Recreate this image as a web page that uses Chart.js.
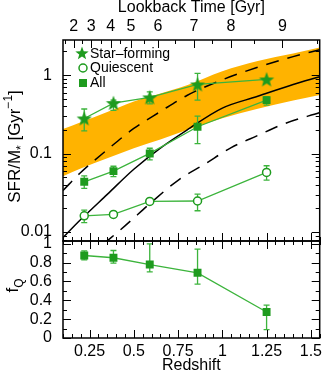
<!DOCTYPE html>
<html>
<head>
<meta charset="utf-8">
<script src="https://cdn.jsdelivr.net/npm/chart.js@4.4.1/dist/chart.umd.min.js"></script>
<style>
  html, body { margin: 0; padding: 0; background: #fff; }
  #wrap { width: 329px; height: 374px; }
</style>
</head>
<body>
<div id="wrap"><canvas id="chart"></canvas></div>
<script>
// measured points
const redshift = [0.22, 0.385, 0.59, 0.86, 1.25];
const sfVal = [0.28, 0.44, 0.52, 0.76, 0.88];
const sfLo  = [0.195, 0.355, 0.43, 0.48, null];
const sfHi  = [0.37, 0.48, 0.61, 1.05, null];
const qVal  = [0.0161, 0.0168, 0.0246, 0.0249, 0.0576];
const qLo   = [0.0132, null, null, 0.0187, 0.046];
const qHi   = [0.0191, null, null, 0.0305, 0.070];
const allVal = [0.0437, 0.0598, 0.1005, 0.22, 0.48];
const allLo  = [0.036, 0.051, 0.083, 0.134, 0.415];
const allHi  = [0.052, 0.069, 0.117, 0.30, 0.53];
const fqVal = [0.876, 0.852, 0.780, 0.692, 0.276];
const fqLo  = [0.830, 0.795, 0.703, 0.573, 0.088];
const fqHi  = [0.926, 0.929, 1.0, 0.944, 0.350];

// model curves
const modelZ  = [0.1, 0.2, 0.35, 0.5, 0.65, 0.8, 1.0, 1.2, 1.4, 1.55];
const bandHi  = [0.205, 0.251, 0.339, 0.462, 0.582, 0.741, 1.122, 1.514, 1.884, 2.239];
const bandLo  = [0.0516, 0.0646, 0.087, 0.117, 0.151, 0.20, 0.282, 0.372, 0.473, 0.556];
const dashHi  = [0.0339, 0.0575, 0.112, 0.209, 0.343, 0.55, 0.871, 1.26, 1.72, 2.10];
const solid   = [0.00851, 0.01445, 0.0302, 0.0631, 0.1175, 0.1995, 0.380, 0.537, 0.759, 0.955];
const dashLoZ = [0.33, 0.45, 0.6, 0.75, 0.9, 1.05, 1.2, 1.35, 1.55];
const dashLo  = [0.00708, 0.0120, 0.0240, 0.0457, 0.0733, 0.119, 0.170, 0.240, 0.333];

// ticks
const zTicks = [0.25, 0.5, 0.75, 1, 1.25, 1.5];
const zTickLabels = ['0.25', '0.5', '0.75', '1', '1.25', '1.5'];
const lbMajorZ = [0.160, 0.259, 0.369, 0.484, 0.637, 0.840, 1.048, 1.339];
const lbLabels = ['2', '3', '4', '5', '6', '7', '8', '9'];
const lbMinorZ = [0.11, 0.208, 0.312, 0.422, 0.559, 0.73, 0.943, 1.18, 1.536];
const sTicks = [0.01, 0.1, 1];
const sTickLabels = ['0.01', '0.1', '1'];
const fTicks = [0, 0.2, 0.4, 0.6, 0.8, 1];
const fTickLabels = ['0', '0.2', '0.4', '0.6', '0.8', '1'];

const G = '#1e9b1e', GL = '#3cb43c', ORANGE = '#ffb300';
const FONT = 'Liberation Sans';

function pts(xs, ys) { return xs.map((x, i) => ({ x: x, y: ys[i] })); }

function makeStar(r, color) {
  const c = document.createElement('canvas');
  const s = Math.ceil(r * 2 + 2);
  c.width = s; c.height = s;
  const g = c.getContext('2d');
  g.fillStyle = color;
  g.beginPath();
  for (let i = 0; i < 10; i++) {
    const rad = i % 2 ? r * 0.42 : r;
    const a = -Math.PI / 2 + i * Math.PI / 5;
    g.lineTo(s / 2 + rad * Math.cos(a), s / 2 + 0.6 + rad * Math.sin(a));
  }
  g.closePath();
  g.fill();
  return c;
}
const starImg = makeStar(8, G);
const starLegend = makeStar(7, G);

function errBars(chart, yId, xs, lo, hi) {
  const ctx = chart.ctx, sx = chart.scales.x, sy = chart.scales[yId];
  ctx.save();
  ctx.strokeStyle = GL;
  ctx.lineWidth = 1.3;
  xs.forEach((z, i) => {
    if (lo[i] == null) return;
    const px = sx.getPixelForValue(z);
    const p1 = sy.getPixelForValue(lo[i]), p2 = sy.getPixelForValue(hi[i]);
    ctx.beginPath();
    ctx.moveTo(px, p1); ctx.lineTo(px, p2);
    ctx.moveTo(px - 3, p1); ctx.lineTo(px + 3, p1);
    ctx.moveTo(px - 3, p2); ctx.lineTo(px + 3, p2);
    ctx.stroke();
  });
  ctx.restore();
}

function richV(ctx, cx, cy, parts, size) {
  ctx.save();
  ctx.translate(cx, cy);
  ctx.rotate(-Math.PI / 2);
  let w = 0;
  parts.forEach(p => {
    ctx.font = (p.s ? size * 0.7 : size) + 'px "' + FONT + '"';
    p.w = ctx.measureText(p.t).width;
    w += p.w;
  });
  let x = -w / 2;
  ctx.fillStyle = '#000';
  ctx.textBaseline = 'alphabetic';
  parts.forEach(p => {
    ctx.font = (p.s ? size * 0.7 : size) + 'px "' + FONT + '"';
    const dy = p.s === 'sub' ? size * 0.3 : (p.s === 'sup' ? -size * 0.45 : 0);
    ctx.fillText(p.t, x, dy);
    x += p.w;
  });
  ctx.restore();
}

const panels = {
  id: 'panels',
  beforeDatasetDraw(chart, args) {
    const ds = chart.data.datasets[args.index];
    if (ds.errFirst) {
      errBars(chart, 'yTop', redshift, sfLo, sfHi);
      errBars(chart, 'yTop', redshift, qLo, qHi);
      errBars(chart, 'yTop', redshift, allLo, allHi);
      errBars(chart, 'yBot', redshift, fqLo, fqHi);
    }
    const a = chart.chartArea, ys = args.meta.yScale, ctx = chart.ctx;
    ctx.save();
    ctx.beginPath();
    ctx.rect(a.left, ys.top, a.right - a.left, ys.bottom - ys.top);
    ctx.clip();
  },
  afterDatasetDraw(chart) {
    chart.ctx.restore();
  },
  afterDraw(chart) {
    const ctx = chart.ctx, a = chart.chartArea;
    const sx = chart.scales.x, yT = chart.scales.yTop, yB = chart.scales.yBot;
    ctx.save();
    ctx.strokeStyle = '#000';
    ctx.lineWidth = 1;
    ctx.beginPath();
    const tx = (v, y, len) => { const p = Math.round(sx.getPixelForValue(v)) + 0.5; ctx.moveTo(p, y); ctx.lineTo(p, y + len); };
    const ty = (s, v, len) => {
      const p = Math.round(s.getPixelForValue(v)) + 0.5;
      ctx.moveTo(a.left, p); ctx.lineTo(a.left + len, p);
      ctx.moveTo(a.right, p); ctx.lineTo(a.right - len, p);
    };
    // redshift ticks
    for (let k = 2; k <= 31; k++) {
      const v = k * 0.05;
      const len = (k % 5 === 0) ? 8 : 4;
      tx(v, yT.bottom, -len);
      tx(v, yB.top, len);
      tx(v, a.bottom, -len);
    }
    // lookback ticks
    lbMajorZ.forEach(v => tx(v, a.top, 8));
    lbMinorZ.forEach(v => tx(v, a.top, 4));
    // log y ticks
    [0.001, 0.01, 0.1, 1].forEach(d => {
      for (let k = 1; k <= 9; k++) {
        const v = k * d;
        if (v < yT.min || v > yT.max) continue;
        ty(yT, v, k === 1 ? 8 : 4);
      }
    });
    // fQ ticks
    for (let k = 0; k <= 10; k++) ty(yB, k / 10, k % 2 === 0 ? 8 : 4);
    ctx.stroke();
    // frames
    ctx.lineWidth = 1.5;
    ctx.strokeRect(a.left, yT.top, a.right - a.left, yT.bottom - yT.top);
    ctx.strokeRect(a.left, yB.top, a.right - a.left, yB.bottom - yB.top);
    ctx.restore();

    // legend
    ctx.save();
    ctx.font = '14px "' + FONT + '"';
    ctx.fillStyle = '#000';
    ctx.textBaseline = 'middle';
    const lx = a.left + 19, tx0 = a.left + 27;
    ctx.drawImage(starLegend, lx - starLegend.width / 2, 53 - starLegend.height / 2);
    ctx.fillText('Star\u2013forming', tx0, 54);
    ctx.beginPath();
    ctx.arc(lx + 1, 68, 4, 0, Math.PI * 2);
    ctx.fillStyle = '#fff'; ctx.fill();
    ctx.strokeStyle = G; ctx.lineWidth = 1.5; ctx.stroke();
    ctx.fillStyle = '#000';
    ctx.fillText('Quiescent', tx0, 68.5);
    ctx.fillStyle = G;
    ctx.fillRect(lx - 3, 79, 8, 8);
    ctx.fillStyle = '#000';
    ctx.fillText('All', tx0, 83);
    ctx.restore();

    // y titles
    richV(ctx, 20, (yT.top + yT.bottom) / 2 + 6, [
      { t: 'SFR/M' }, { t: '*', s: 'sub' }, { t: ' [Gyr' }, { t: '\u22121', s: 'sup' }, { t: ']' }
    ], 17);
    richV(ctx, 18, (yB.top + yB.bottom) / 2 - 4, [{ t: 'f' }, { t: 'Q', s: 'sub' }], 17);
  }
};

const tickFont = { family: FONT, size: 16, lineHeight: 1 };
const titleFont = { family: FONT, size: 16, lineHeight: 1 };
const noGrid = { display: false, drawTicks: false, tickLength: 0 };

new Chart(document.getElementById('chart'), {
  type: 'line',
  data: {
    datasets: [
      { data: pts(modelZ, bandHi), yAxisID: 'yTop', borderWidth: 0, pointRadius: 0, fill: '+1', backgroundColor: ORANGE, cubicInterpolationMode: 'monotone', order: 11 },
      { data: pts(modelZ, bandLo), yAxisID: 'yTop', borderWidth: 0, pointRadius: 0, fill: false, cubicInterpolationMode: 'monotone', order: 10 },
      { data: pts(modelZ, dashHi), yAxisID: 'yTop', borderColor: '#000', borderWidth: 1.5, borderDash: [13, 9], pointRadius: 0, cubicInterpolationMode: 'monotone', order: 9 },
      { data: pts(dashLoZ, dashLo), yAxisID: 'yTop', borderColor: '#000', borderWidth: 1.5, borderDash: [13, 9], pointRadius: 0, cubicInterpolationMode: 'monotone', order: 8 },
      { data: pts(modelZ, solid), yAxisID: 'yTop', borderColor: '#000', borderWidth: 1.5, pointRadius: 0, cubicInterpolationMode: 'monotone', order: 7 },
      { label: 'Star-forming', data: pts(redshift, sfVal), yAxisID: 'yTop', borderColor: GL, borderWidth: 1.3, pointStyle: starImg, pointRadius: 8, errFirst: true, order: 3 },
      { label: 'Quiescent', data: pts(redshift, qVal), yAxisID: 'yTop', borderColor: GL, borderWidth: 1.3, pointStyle: 'circle', pointRadius: 4, pointBackgroundColor: '#fff', pointBorderColor: G, pointBorderWidth: 1.5, order: 2 },
      { label: 'All', data: pts(redshift, allVal), yAxisID: 'yTop', borderColor: GL, borderWidth: 1.3, pointStyle: 'rect', pointRadius: 5.6, pointBackgroundColor: G, pointBorderColor: G, pointBorderWidth: 0, order: 1 },
      { label: 'fQ', data: pts(redshift, fqVal), yAxisID: 'yBot', borderColor: GL, borderWidth: 1.3, pointStyle: 'rect', pointRadius: 5.6, pointBackgroundColor: G, pointBorderColor: G, pointBorderWidth: 0, order: 0 }
    ]
  },
  options: {
    responsive: true,
    maintainAspectRatio: false,
    animation: false,
    events: [],
    layout: { padding: { left: 0, right: 3, top: 0, bottom: 0 } },
    plugins: { legend: { display: false }, tooltip: { enabled: false } },
    scales: {
      x: {
        type: 'linear', position: 'bottom', min: 0.1, max: 1.55,
        afterBuildTicks: s => { s.ticks = zTicks.map(v => ({ value: v })); },
        afterFit: s => { s.height = 36; },
        grid: noGrid, border: { display: false },
        ticks: { callback: (v, i) => zTickLabels[i], font: tickFont, color: '#000', padding: 6, autoSkip: false, maxRotation: 0 },
        title: { display: true, text: 'Redshift', font: titleFont, color: '#000', padding: 0 }
      },
      xTop: {
        type: 'linear', position: 'top', min: 0.1, max: 1.55,
        afterBuildTicks: s => { s.ticks = lbMajorZ.map(v => ({ value: v })); },
        afterFit: s => { s.height = 40; },
        grid: noGrid, border: { display: false },
        ticks: { callback: (v, i) => lbLabels[i], font: tickFont, color: '#000', padding: 5, autoSkip: false, maxRotation: 0 },
        title: { display: true, text: 'Lookback Time [Gyr]', font: titleFont, color: '#000', padding: 0 }
      },
      yBot: {
        type: 'linear', position: 'left', stack: 'v', stackWeight: 97, min: 0, max: 1.03,
        afterBuildTicks: s => { s.ticks = fTicks.map(v => ({ value: v })); },
        afterFit: s => { s.width = 63; },
        grid: noGrid, border: { display: false },
        ticks: { callback: (v, i) => fTickLabels[i], font: tickFont, color: '#000', padding: 11, autoSkip: false }
      },
      yTop: {
        type: 'logarithmic', position: 'left', stack: 'v', stackWeight: 201, min: 0.0077, max: 2.8,
        afterBuildTicks: s => { s.ticks = sTicks.map(v => ({ value: v })); },
        afterFit: s => { s.width = 63; },
        grid: noGrid, border: { display: false },
        ticks: { callback: (v, i) => sTickLabels[i], font: tickFont, color: '#000', padding: 11, autoSkip: false }
      }
    }
  },
  plugins: [panels]
});
</script>
</body>
</html>
